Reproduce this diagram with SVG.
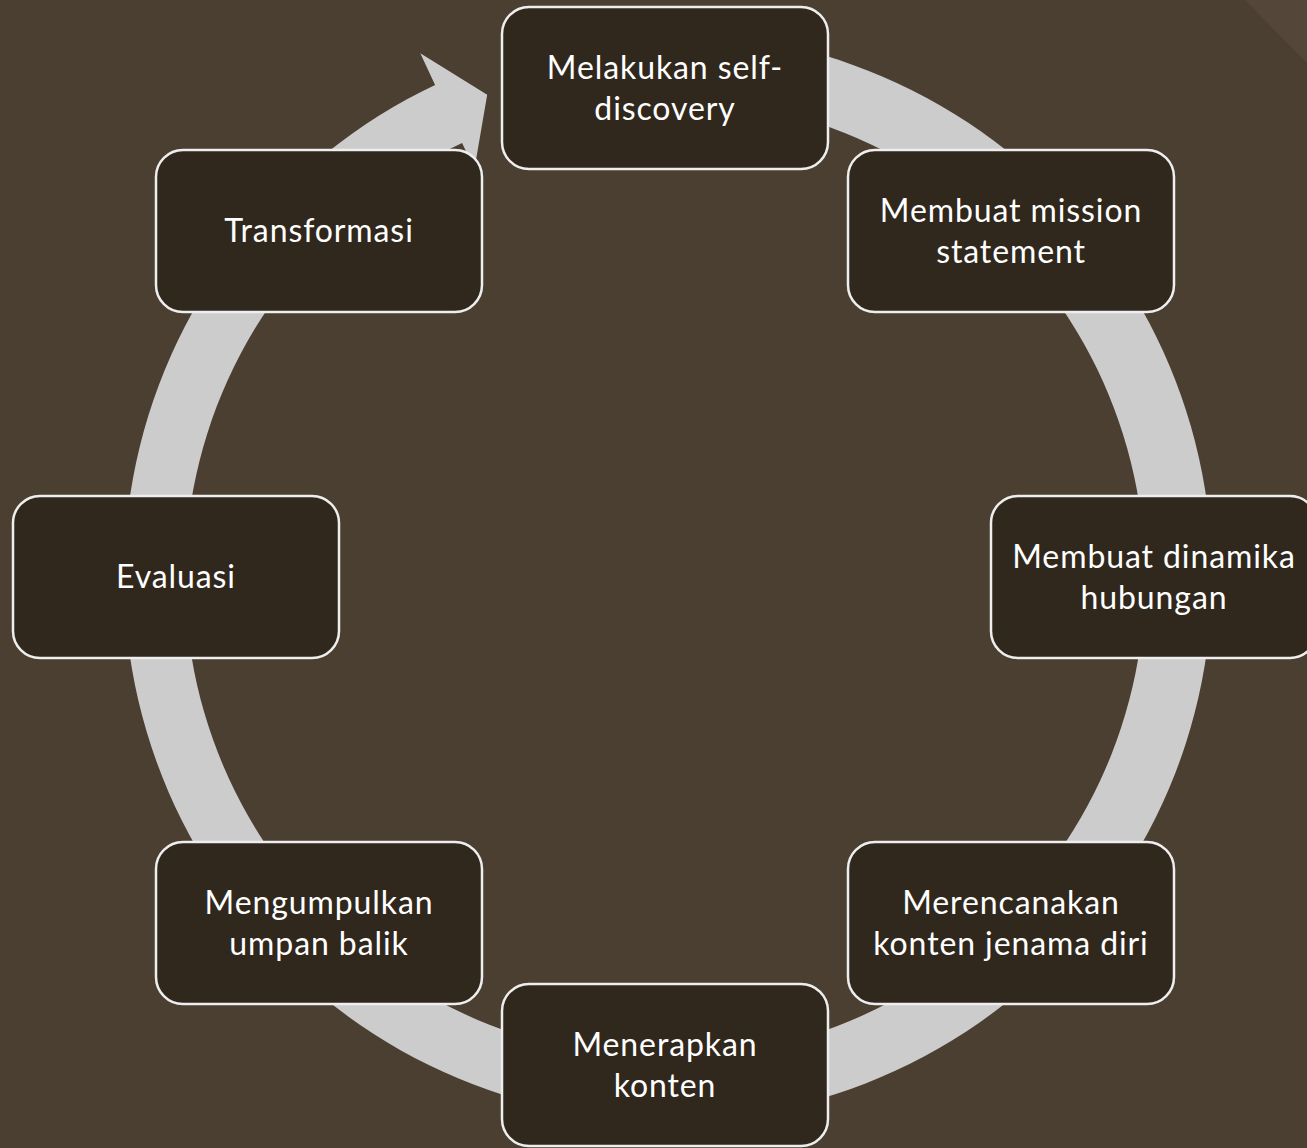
<svg xmlns="http://www.w3.org/2000/svg" width="1307" height="1148" viewBox="0 0 1307 1148">
  <style>
    .node rect { fill: #31281d; stroke: #eeeeee; stroke-width: 2.5; }
    .node text { fill: #ffffff; font-family: "Lato", "Open Sans", sans-serif; font-size: 32px; letter-spacing: 0.9px; text-anchor: middle; }
    .ring { fill: #cccccc; }
  </style>
  <rect x="0" y="0" width="1307" height="1148" fill="#4b3f31"/>
  <polygon points="1245,0 1307,0 1307,63" fill="#54473a"/>
  <g id="connectors">
    <path class="ring" d="M 759.8 40.3 A 544 544 0 1 1 435.1 84.9 L 420.3 53.3 L 487.2 94.7 L 474.4 169.3 L 462.1 143 A 480 480 0 1 0 748.4 105.3 Z"/>
  </g>
  <g id="node1" class="node">
    <rect x="502" y="7" width="326" height="162" rx="27"/>
    <text x="665" y="79">Melakukan self-</text>
    <text x="665" y="120">discovery</text>
  </g>
  <g id="node2" class="node">
    <rect x="848" y="150" width="326" height="162" rx="27"/>
    <text x="1011" y="222">Membuat mission</text>
    <text x="1011" y="263">statement</text>
  </g>
  <g id="node3" class="node">
    <rect x="991" y="496" width="326" height="162" rx="27"/>
    <text x="1154" y="568">Membuat dinamika</text>
    <text x="1154" y="609">hubungan</text>
  </g>
  <g id="node4" class="node">
    <rect x="848" y="842" width="326" height="162" rx="27"/>
    <text x="1011" y="914">Merencanakan</text>
    <text x="1011" y="955">konten jenama diri</text>
  </g>
  <g id="node5" class="node">
    <rect x="502" y="984" width="326" height="162" rx="27"/>
    <text x="665" y="1056">Menerapkan</text>
    <text x="665" y="1097">konten</text>
  </g>
  <g id="node6" class="node">
    <rect x="156" y="842" width="326" height="162" rx="27"/>
    <text x="319" y="914">Mengumpulkan</text>
    <text x="319" y="955">umpan balik</text>
  </g>
  <g id="node7" class="node">
    <rect x="13" y="496" width="326" height="162" rx="27"/>
    <text x="176" y="588">Evaluasi</text>
  </g>
  <g id="node8" class="node">
    <rect x="156" y="150" width="326" height="162" rx="27"/>
    <text x="319" y="242">Transformasi</text>
  </g>
</svg>
